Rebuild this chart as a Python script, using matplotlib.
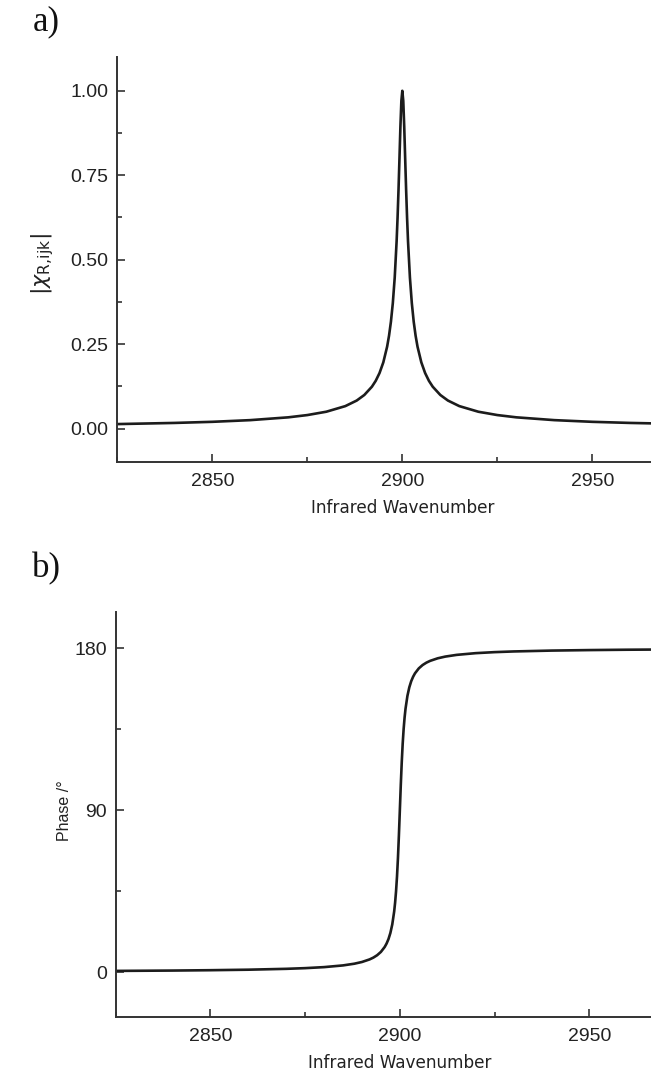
"""Amplitude and phase of a single resonant susceptibility term."""

import matplotlib
matplotlib.use("Agg")
import matplotlib.pyplot as plt
from matplotlib.ticker import MultipleLocator

# sampled along the infrared axis, denser around the resonance at 2900
wavenumber = [
    2825, 2840, 2850, 2860, 2870, 2875, 2880, 2885, 2888, 2890, 2892, 2893,
    2894, 2895, 2896, 2896.5, 2897, 2897.5, 2898, 2898.5, 2898.75, 2899,
    2899.25, 2899.5, 2899.75, 2900,
    2900.25, 2900.5, 2900.75, 2901, 2901.25, 2901.5, 2902, 2902.5, 2903,
    2903.5, 2904, 2905, 2906, 2907, 2908, 2910, 2912, 2915, 2920, 2925,
    2930, 2940, 2950, 2960, 2975,
]
chi_abs = [
    0.0133, 0.0167, 0.0200, 0.0250, 0.0333, 0.0400, 0.0499, 0.0665, 0.0830,
    0.0995, 0.1240, 0.1414, 0.1644, 0.1961, 0.2425, 0.2747, 0.3162, 0.3714,
    0.4472, 0.5547, 0.6247, 0.7071, 0.8000, 0.8944, 0.9701, 1.0000,
    0.9701, 0.8944, 0.8000, 0.7071, 0.6247, 0.5547, 0.4472, 0.3714, 0.3162,
    0.2747, 0.2425, 0.1961, 0.1644, 0.1414, 0.1240, 0.0995, 0.0830, 0.0665,
    0.0499, 0.0400, 0.0333, 0.0250, 0.0200, 0.0167, 0.0133,
]
phase_deg = [
    0.76, 0.95, 1.15, 1.43, 1.91, 2.29, 2.86, 3.81, 4.76, 5.71, 7.13, 8.13,
    9.46, 11.31, 14.04, 15.95, 18.43, 21.80, 26.57, 33.69, 38.66, 45.00,
    53.13, 63.43, 75.96, 90.00,
    104.04, 116.57, 126.87, 135.00, 141.34, 146.31, 153.43, 158.20, 161.57,
    164.05, 165.96, 168.69, 170.54, 171.87, 172.87, 174.29, 175.24, 176.19,
    177.14, 177.71, 178.09, 178.57, 178.85, 179.05, 179.24,
]

amp_ticks = [0.00, 0.25, 0.50, 0.75, 1.00]
phase_ticks = [0, 90, 180]
wn_ticks = [2850, 2900, 2950]

plt.rcParams["font.family"] = ["Liberation Sans", "DejaVu Sans"]
plt.rcParams["mathtext.fontset"] = "dejavusans"

INK = "#1c1c1c"
AXIS = "#333333"


def style_axes(ax, minor_y):
    for side in ("top", "right"):
        ax.spines[side].set_visible(False)
    for side in ("left", "bottom"):
        ax.spines[side].set_linewidth(1.4)
        ax.spines[side].set_color(AXIS)
    ax.set_xlim(2825, 2975)
    ax.set_xticks(wn_ticks)
    ax.xaxis.set_minor_locator(MultipleLocator(25))
    ax.yaxis.set_minor_locator(MultipleLocator(minor_y))
    ax.tick_params(which="both", direction="in", color=AXIS, width=1.2,
                   top=False, right=False, labelsize=14, labelcolor="#222222")
    ax.tick_params(which="major", length=5.8)
    ax.tick_params(which="minor", length=3.4)
    ax.tick_params(axis="x", pad=8)
    ax.tick_params(axis="y", pad=6.5)
    ax.set_xlabel("Infrared Wavenumber", family="DejaVu Sans", fontsize=12.2,
                  color="#222222", labelpad=6)


fig = plt.figure(figsize=(6.51, 10.78), dpi=100)

ax1 = fig.add_axes([0.1802, 0.5711, 0.8756, 0.3760])
ax1.plot(wavenumber, chi_abs, color=INK, lw=1.9, solid_joinstyle="round")
ax1.set_ylim(-0.1, 1.1)
ax1.set_yticks(amp_ticks)
ax1.set_yticklabels([f"{v:.2f}" for v in amp_ticks])
style_axes(ax1, 0.125)
ax1.set_ylabel(r"$|\chi_{\mathrm{R,\!ijk}}|$", fontsize=16, color="#222222")
ax1.yaxis.set_label_coords(-0.107, 0.49)

ax2 = fig.add_axes([0.1777, 0.0563, 0.8730, 0.3760])
ax2.plot(wavenumber, phase_deg, color=INK, lw=1.9, solid_joinstyle="round")
ax2.set_ylim(-25, 200)
ax2.set_yticks(phase_ticks)
style_axes(ax2, 45)
ax2.set_ylabel("Phase /°", fontsize=11.5, color="#222222")
ax2.yaxis.set_label_coords(-0.077, 0.51)

fig.text(33 / 651, 1 - 22 / 1078, "a)", family="Liberation Serif",
         fontsize=25, ha="left", va="center", color="#111111")
fig.text(32 / 651, 1 - 569 / 1078, "b)", family="Liberation Serif",
         fontsize=25, ha="left", va="center", color="#111111")

fig.savefig("out.png", dpi=100, facecolor="white")
